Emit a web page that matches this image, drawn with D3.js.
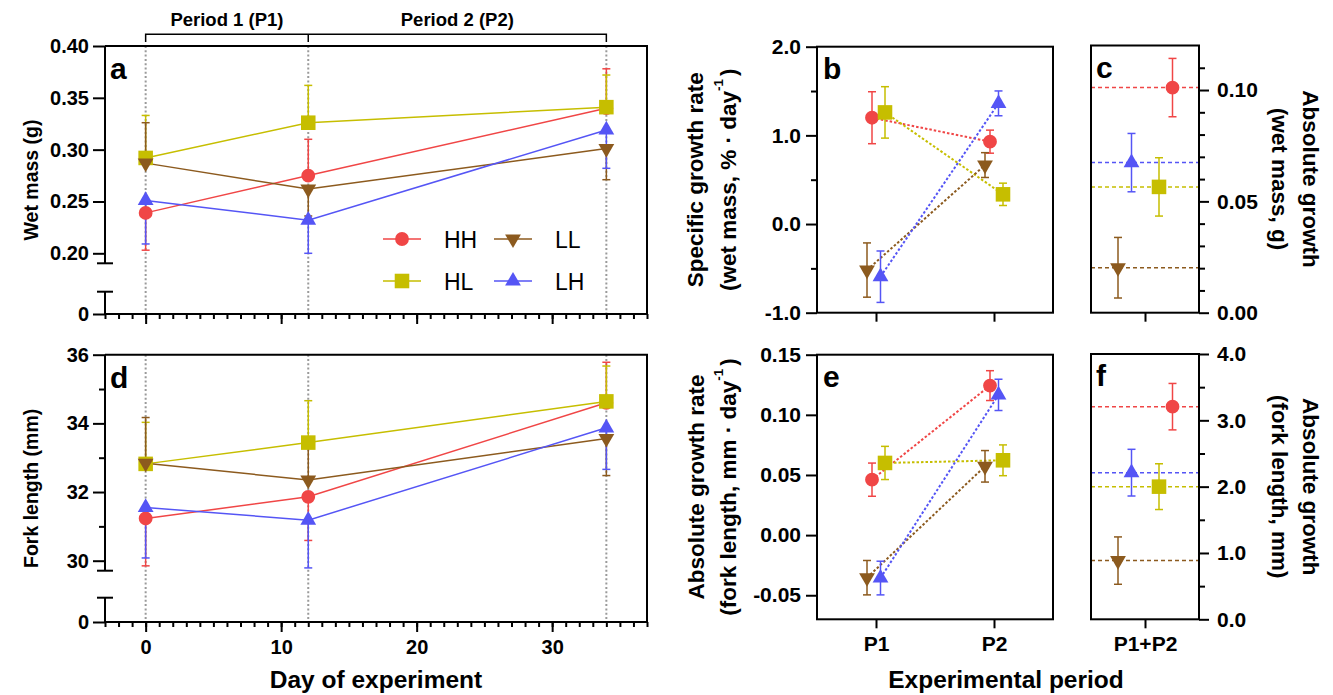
<!DOCTYPE html>
<html><head><meta charset="utf-8">
<script src="https://cdn.jsdelivr.net/npm/d3@7"></script>
<style>
body{margin:0;background:#fff;}
svg{display:block;}
</style></head><body>
<svg id="chart" width="1333" height="695"></svg>
<script>
// ---------------- DATA ----------------
const groups = ["HH", "HL", "LL", "LH"];
const days = [0, 12, 34];
const dayTicks = [0, 10, 20, 30];
const periodLabels = ["Period 1 (P1)", "Period 2 (P2)"];

// panel a: wet mass (g), mean per day; error bar end values (one-sided)
const wetMass = [
  [0.239, 0.275, 0.340],  // HH
  [0.292, 0.326, 0.341],  // HL
  [0.287, 0.262, 0.301],  // LL
  [0.251, 0.232, 0.319]   // LH
];
const wetMassBarEnd = [
  [0.203, 0.310, 0.378],
  [0.333, 0.362, 0.372],
  [0.326, 0.236, 0.271],
  [0.209, 0.200, 0.282]
];
const wetMassTicks = [0.20, 0.25, 0.30, 0.35, 0.40];

// panel d: fork length (mm)
const forkLength = [
  [31.23, 31.86, 34.60],
  [32.82, 33.44, 34.64],
  [32.84, 32.35, 33.56],
  [31.55, 31.18, 33.87]
];
const forkLengthBarEnd = [
  [29.85, 30.59, 35.78],
  [34.03, 34.66, 35.67],
  [34.17, 33.53, 32.48],
  [30.08, 29.79, 32.66]
];
const forkTicks = [30, 32, 34, 36];

// panel b: specific growth rate (P1, P2) and error
const periods = ["P1", "P2"];
const sgr = [
  [1.199, 0.929],
  [1.259, 0.335],
  [-0.519, 0.665],
  [-0.594, 1.361]
];
const sgrErr = [
  [0.293, 0.130],
  [0.290, 0.126],
  [0.306, 0.140],
  [0.290, 0.140]
];
const sgrTicks = [-1, 0, 1, 2];

// panel e: absolute growth rate, fork length
const agr = [
  [0.0461, 0.1243],
  [0.0600, 0.0622],
  [-0.0354, 0.0572],
  [-0.0357, 0.1166]
];
const agrErr = [
  [0.0138, 0.0124],
  [0.0138, 0.0128],
  [0.0143, 0.0131],
  [0.0140, 0.0130]
];
const agrTicks = [-0.05, 0.00, 0.05, 0.10, 0.15];

// panels c, f: absolute growth P1+P2
const totalLabel = ["P1+P2"];
const absWet = [0.1011, 0.0565, 0.0202, 0.0674];
const absWetErr = [0.0131, 0.0131, 0.0136, 0.0131];
const absWetTicks = [0.00, 0.05, 0.10];
const absFork = [3.206, 2.000, 0.885, 2.211];
const absForkErr = [0.350, 0.345, 0.357, 0.352];
const absForkTicks = [0, 1, 2, 3, 4];

// ---------------- STYLE ----------------
const colors = ["#f04646", "#c6be00", "#8c5a1e", "#5555f5"];
const FONT = "'Liberation Sans', Arial, Helvetica, sans-serif";
const shapeOf = [d3.symbolCircle, d3.symbolSquare, d3.symbolTriangle, d3.symbolTriangle];
const sizeOf = [150, 212, 108, 108];
const rotOf = [0, 0, 180, 0];

const svg = d3.select("#chart");
svg.append("rect").attr("width", 1333).attr("height", 695).attr("fill", "#fff");

function styleAxis(g, size) {
  g.select(".domain").remove();
  g.selectAll(".tick line").attr("stroke", "#000").attr("stroke-width", 2);
  g.selectAll(".tick text").attr("fill", "#000").attr("font-size", size)
    .attr("font-weight", "bold").attr("font-family", FONT);
  return g;
}
function line(g, x1, y1, x2, y2, w = 2, c = "#000") {
  return g.append("line").attr("x1", x1).attr("y1", y1).attr("x2", x2).attr("y2", y2)
    .attr("stroke", c).attr("stroke-width", w);
}
function marker(g, i, x, y) {
  g.append("path").attr("d", d3.symbol(shapeOf[i], sizeOf[i])())
    .attr("transform", `translate(${x},${y}) rotate(${rotOf[i]})`)
    .attr("fill", colors[i]);
}
function cap(g, i, x, y, half = 4) {
  line(g, x - half, y, x + half, y, 1.5, colors[i]);
}
function text(g, x, y, str, size, opts = {}) {
  const t = g.append("text").attr("x", x).attr("y", y).attr("font-family", FONT)
    .attr("font-size", size).attr("font-weight", opts.weight || "bold")
    .attr("text-anchor", opts.anchor || "start").attr("fill", "#000").text(str);
  if (opts.rotate !== undefined) {
    t.attr("transform", `rotate(${opts.rotate},${x},${y})`).attr("dominant-baseline", "central");
  }
  return t;
}
function titleWithSup(g, x, y, pre, sup, post, size, rot) {
  const t = text(g, x, y, "", size, {anchor: "middle", rotate: rot});
  t.append("tspan").text(pre);
  t.append("tspan").text(sup).attr("font-size", size * 0.6).attr("dy", -size * 0.45);
  t.append("tspan").text(post).attr("dy", size * 0.45).attr("dx", 3);
}

// ---------------- TIME PANELS (a, d) ----------------
const xDay = d3.scaleLinear().domain([-3, 37]).range([105, 647]);

function timePanel(o) {
  const g = svg.append("g");
  const y = d3.scaleLinear().domain(o.yDomain).range(o.yRange);
  const yLow = d3.scaleLinear().domain([0, 1]).range([o.bottom, o.bottom - 100]);
  const L = xDay.range()[0], R = xDay.range()[1];

  days.forEach(d => line(g, xDay(d), o.top, xDay(d), o.bottom, 2, "#9a9a9a")
    .attr("stroke-dasharray", "2,2.3"));

  g.append("path").attr("d", `M${L},${o.top}H${R}V${o.bottom}`)
    .attr("fill", "none").attr("stroke", "#000").attr("stroke-width", 2);

  line(g, L, o.top, L, o.brkY);
  line(g, L - 8, o.brkY, L + 8, o.brkY);
  line(g, L - 8, o.lowTop, L + 8, o.lowTop);
  line(g, L, o.lowTop, L, o.bottom);
  styleAxis(g.append("g").attr("transform", `translate(${L},0)`)
    .call(d3.axisLeft(y).tickValues(o.ticks).tickSize(12).tickPadding(4).tickFormat(o.fmt)), 20);
  if (o.minor.length)
    styleAxis(g.append("g").attr("transform", `translate(${L},0)`)
      .call(d3.axisLeft(y).tickValues(o.minor).tickSize(6).tickFormat("")), 20);
  styleAxis(g.append("g").attr("transform", `translate(${L},0)`)
    .call(d3.axisLeft(yLow).tickValues([0]).tickSize(12).tickPadding(4).tickFormat(d3.format("d"))), 20);

  line(g, L, o.bottom, R, o.bottom);
  styleAxis(g.append("g").attr("transform", `translate(0,${o.bottom})`)
    .call(d3.axisBottom(xDay).tickValues(d3.range(-3, 38)).tickSize(5).tickFormat("")), 20);
  styleAxis(g.append("g").attr("transform", `translate(0,${o.bottom})`)
    .call(d3.axisBottom(xDay).tickValues(dayTicks).tickSize(10).tickPadding(8)
      .tickFormat(o.xLabels ? d3.format("d") : "")), 20);

  const ln = d3.line().x((d, j) => xDay(days[j])).y(d => y(d));
  o.data.forEach((row, i) => g.append("path").attr("d", ln(row)).attr("fill", "none")
    .attr("stroke", colors[i]).attr("stroke-width", 1.5));
  o.data.forEach((row, i) => row.forEach((v, j) => {
    line(g, xDay(days[j]), y(v), xDay(days[j]), y(o.ends[i][j]), 1.5, colors[i]);
    cap(g, i, xDay(days[j]), y(o.ends[i][j]));
  }));
  o.data.forEach((row, i) => row.forEach((v, j) => marker(g, i, xDay(days[j]), y(v))));

  text(g, 110, o.top + 33, o.letter, 30);
  text(g, 31, (o.top + o.bottom) / 2, o.title, 19.5, {anchor: "middle", rotate: -90});
}

timePanel({
  top: 46, bottom: 314, yDomain: [0.20, 0.40], yRange: [253.3, 46], brkY: 263.3, lowTop: 291.7,
  ticks: wetMassTicks, minor: [], fmt: v => v.toFixed(2),
  data: wetMass, ends: wetMassBarEnd, letter: "a", title: "Wet mass (g)", xLabels: false
});
timePanel({
  top: 354.7, bottom: 622, yDomain: [30, 36], yRange: [560.7, 354.7], brkY: 570.7, lowTop: 597.7,
  ticks: forkTicks, minor: [31, 33, 35], fmt: d3.format("d"),
  data: forkLength, ends: forkLengthBarEnd, letter: "d", title: "Fork length (mm)", xLabels: true
});
text(svg, 376, 688, "Day of experiment", 24.5, {anchor: "middle"});

// period brackets
(function () {
  const g = svg.append("g");
  g.append("path").attr("d",
    `M${xDay(days[0])},42V34.3H${xDay(days[2])}V42M${xDay(days[1])},34.3V42`)
    .attr("fill", "none").attr("stroke", "#000").attr("stroke-width", 1.5);
  periodLabels.forEach((lab, k) =>
    text(g, (xDay(days[k]) + xDay(days[k + 1])) / 2, 26, lab, 18.5, {anchor: "middle"}));
})();

// legend
(function () {
  const g = svg.append("g");
  const pos = [[402, 239], [402, 281], [513, 239], [513, 281]]; // HH, HL, LL, LH
  groups.forEach((name, i) => {
    const [cx, cy] = pos[i];
    line(g, cx - 19, cy, cx + 19, cy, 1.5, colors[i]);
    marker(g, i, cx, cy);
    text(g, cx + 42, cy + 8.5, name, 23, {weight: "normal"});
  });
})();

// ---------------- RATE PANELS (b, e) ----------------
const xPer = d3.scaleLinear().domain([0.5, 2.5]).range([817, 1053]);
const rateOffset = [-4, 9, -9, 4.5];

function ratePanel(o) {
  const g = svg.append("g");
  const y = d3.scaleLinear().domain(o.domain).range([o.bottom, o.top]);
  const L = 817, R = 1053;
  g.append("rect").attr("x", L).attr("y", o.top).attr("width", R - L).attr("height", o.bottom - o.top)
    .attr("fill", "none").attr("stroke", "#000").attr("stroke-width", 2);
  styleAxis(g.append("g").attr("transform", `translate(${L},0)`)
    .call(d3.axisLeft(y).tickValues(o.ticks).tickSize(11).tickPadding(5).tickFormat(o.fmt)), 21);
  if (o.minor.length)
    styleAxis(g.append("g").attr("transform", `translate(${L},0)`)
      .call(d3.axisLeft(y).tickValues(o.minor).tickSize(6).tickFormat("")), 21);
  styleAxis(g.append("g").attr("transform", `translate(0,${o.bottom})`)
    .call(d3.axisBottom(xPer).tickValues([1, 2]).tickSize(9).tickPadding(8)
      .tickFormat(o.xLabels ? (d => periods[d - 1]) : "")), 21);

  const px = (i, j) => xPer(j + 1) + rateOffset[i];
  o.data.forEach((row, i) => g.append("path")
    .attr("d", d3.line().x((d, j) => px(i, j)).y(d => y(d))(row))
    .attr("fill", "none").attr("stroke", colors[i]).attr("stroke-width", 2)
    .attr("stroke-dasharray", "2.5,2"));
  o.data.forEach((row, i) => row.forEach((v, j) => {
    const e = o.err[i][j];
    line(g, px(i, j), y(v - e), px(i, j), y(v + e), 1.5, colors[i]);
    cap(g, i, px(i, j), y(v - e));
    cap(g, i, px(i, j), y(v + e));
  }));
  o.data.forEach((row, i) => row.forEach((v, j) => marker(g, i, px(i, j), y(v))));

  text(g, 823, o.top + 32, o.letter, 30);
  const cy = (o.top + o.bottom) / 2;
  text(g, 696, cy, o.title1, 22.5, {anchor: "middle", rotate: -90});
  titleWithSup(g, 728, cy, o.title2, "-1", ")", 22.5, -90);
}

ratePanel({
  top: 46.7, bottom: 312.7, domain: [-1, 2], ticks: sgrTicks, minor: [-0.5, 0.5, 1.5],
  fmt: v => v.toFixed(1), data: sgr, err: sgrErr, letter: "b",
  title1: "Specific growth rate", title2: "(wet mass, % · day", xLabels: false
});
ratePanel({
  top: 354.7, bottom: 619.3, domain: [-0.07, 0.15], ticks: agrTicks, minor: [],
  fmt: v => v.toFixed(2), data: agr, err: agrErr, letter: "e",
  title1: "Absolute growth rate", title2: "(fork length, mm · day", xLabels: true
});
text(svg, 1006, 688, "Experimental period", 24.5, {anchor: "middle"});

// ---------------- TOTAL PANELS (c, f) ----------------
const xTot = d3.scaleLinear().domain([0, 2]).range([1091, 1199]);
const totOffset = [27.5, 14, -27, -13.5];

function totalPanel(o) {
  const g = svg.append("g");
  const y = d3.scaleLinear().domain(o.domain).range([o.bottom, o.top]);
  const L = 1091, R = 1199;
  o.data.forEach((v, i) => line(g, L, y(v), R, y(v), 1.5, colors[i]).attr("stroke-dasharray", "4,3"));
  g.append("rect").attr("x", L).attr("y", o.top).attr("width", R - L).attr("height", o.bottom - o.top)
    .attr("fill", "none").attr("stroke", "#000").attr("stroke-width", 2);
  styleAxis(g.append("g").attr("transform", `translate(${R},0)`)
    .call(d3.axisRight(y).tickValues(o.ticks).tickSize(10).tickPadding(8).tickFormat(o.fmt)), 21);
  styleAxis(g.append("g").attr("transform", `translate(${R},0)`)
    .call(d3.axisRight(y).tickValues(o.minor).tickSize(6).tickFormat("")), 21);
  styleAxis(g.append("g").attr("transform", `translate(0,${o.bottom})`)
    .call(d3.axisBottom(xTot).tickValues([1]).tickSize(9).tickPadding(8)
      .tickFormat(o.xLabels ? (() => totalLabel[0]) : "")), 21);

  o.data.forEach((v, i) => {
    const x = xTot(1) + totOffset[i], e = o.err[i];
    line(g, x, y(v - e), x, y(v + e), 1.5, colors[i]);
    cap(g, i, x, y(v - e));
    cap(g, i, x, y(v + e));
  });
  o.data.forEach((v, i) => marker(g, i, xTot(1) + totOffset[i], y(v)));

  text(g, 1096, o.top + 32, o.letter, 30);
  const cy = (o.top + o.bottom) / 2;
  text(g, 1310, cy, o.title1, 22.5, {anchor: "middle", rotate: 90});
  text(g, 1279, cy, o.title2, 22.5, {anchor: "middle", rotate: 90});
}

totalPanel({
  top: 45.5, bottom: 312.7, domain: [0, 0.12], ticks: absWetTicks,
  minor: [0.01, 0.02, 0.03, 0.04, 0.06, 0.07, 0.08, 0.09, 0.11],
  fmt: v => v.toFixed(2), data: absWet, err: absWetErr, letter: "c",
  title1: "Absolute growth", title2: "(wet mass, g)", xLabels: false
});
totalPanel({
  top: 354, bottom: 619.3, domain: [0, 4], ticks: absForkTicks, minor: [0.5, 1.5, 2.5, 3.5],
  fmt: v => v.toFixed(1), data: absFork, err: absForkErr, letter: "f",
  title1: "Absolute growth", title2: "(fork length, mm)", xLabels: true
});
</script>
</body></html>
